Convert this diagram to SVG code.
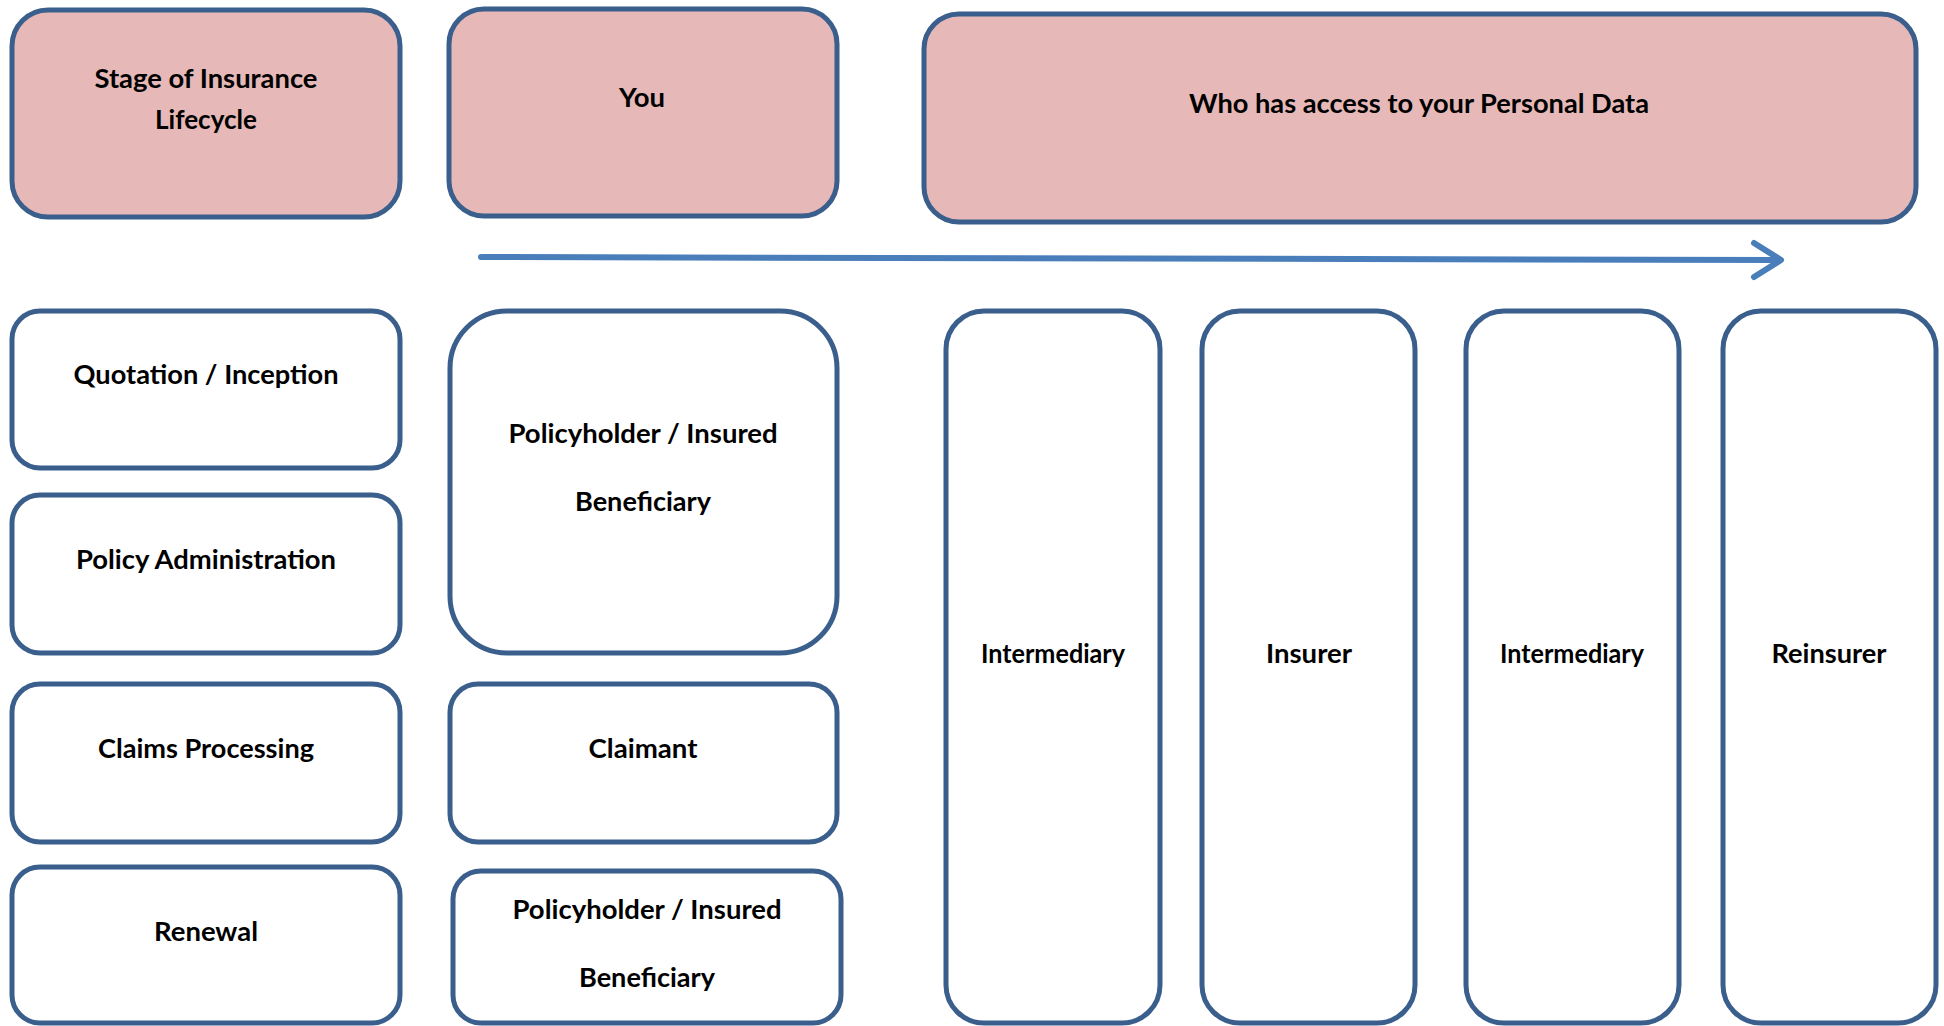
<svg xmlns="http://www.w3.org/2000/svg" width="1944" height="1026" viewBox="0 0 1944 1026">
<style>
.box{fill:#ffffff;stroke:#3B5F8C;stroke-width:5}
.hdr{fill:#E6B8B7;stroke:#3B5F8C;stroke-width:5}
.t{font-family:Lato,"Open Sans","Liberation Sans",sans-serif;font-weight:bold;font-size:26px;fill:#000;text-anchor:middle}
.conn{stroke:#4A7EBB;stroke-width:6;fill:none;stroke-linecap:round;stroke-linejoin:round}
</style>
<rect width="1944" height="1026" fill="#ffffff"/>
<g id="connectors">
<path class="conn" d="M481 257 L1779 260"/>
<path class="conn" d="M1754 243 L1781 260 L1754 277"/>
</g>
<g id="stage-header">
<rect class="hdr" x="12" y="10" width="388" height="207" rx="36" ry="36"/>
<text class="t" x="206" y="88" textLength="223" lengthAdjust="spacingAndGlyphs">Stage of Insurance</text>
<text class="t" x="206" y="129" textLength="102" lengthAdjust="spacingAndGlyphs">Lifecycle</text>
</g>
<g id="you-header">
<rect class="hdr" x="449" y="9" width="388" height="207" rx="35" ry="35"/>
<text class="t" x="642" y="107" textLength="46" lengthAdjust="spacingAndGlyphs">You</text>
</g>
<g id="who-header">
<rect class="hdr" x="924" y="14" width="992" height="208" rx="35" ry="35"/>
<text class="t" x="1419" y="113" textLength="460" lengthAdjust="spacingAndGlyphs">Who has access to your Personal Data</text>
</g>
<g id="quotation">
<rect class="box" x="12" y="311" width="388" height="157" rx="28" ry="28"/>
<text class="t" x="206" y="384" textLength="265" lengthAdjust="spacingAndGlyphs">Quotation / Inception</text>
</g>
<g id="policy-admin">
<rect class="box" x="12" y="495" width="388" height="158" rx="28" ry="28"/>
<text class="t" x="206" y="569" textLength="260" lengthAdjust="spacingAndGlyphs">Policy Administration</text>
</g>
<g id="claims-processing">
<rect class="box" x="12" y="684" width="388" height="158" rx="28" ry="28"/>
<text class="t" x="206" y="758" textLength="216" lengthAdjust="spacingAndGlyphs">Claims Processing</text>
</g>
<g id="renewal">
<rect class="box" x="12" y="867" width="388" height="156" rx="28" ry="28"/>
<text class="t" x="206" y="941" textLength="104" lengthAdjust="spacingAndGlyphs">Renewal</text>
</g>
<g id="policyholder-1">
<rect class="box" x="450" y="311" width="387" height="342" rx="57" ry="57"/>
<text class="t" x="643" y="443" textLength="269" lengthAdjust="spacingAndGlyphs">Policyholder / Insured</text>
<text class="t" x="643" y="511" textLength="136" lengthAdjust="spacingAndGlyphs">Beneficiary</text>
</g>
<g id="claimant">
<rect class="box" x="450" y="684" width="387" height="158" rx="28" ry="28"/>
<text class="t" x="643" y="758" textLength="109" lengthAdjust="spacingAndGlyphs">Claimant</text>
</g>
<g id="policyholder-2">
<rect class="box" x="453" y="871" width="388" height="152" rx="28" ry="28"/>
<text class="t" x="647" y="919" textLength="269" lengthAdjust="spacingAndGlyphs">Policyholder / Insured</text>
<text class="t" x="647" y="987" textLength="136" lengthAdjust="spacingAndGlyphs">Beneficiary</text>
</g>
<g id="intermediary-1">
<rect class="box" x="946" y="311" width="214" height="712" rx="38" ry="38"/>
<text class="t" x="1053" y="663" textLength="144" lengthAdjust="spacingAndGlyphs">Intermediary</text>
</g>
<g id="insurer">
<rect class="box" x="1202" y="311" width="213" height="712" rx="38" ry="38"/>
<text class="t" x="1309" y="663" textLength="86" lengthAdjust="spacingAndGlyphs">Insurer</text>
</g>
<g id="intermediary-2">
<rect class="box" x="1466" y="311" width="213" height="712" rx="38" ry="38"/>
<text class="t" x="1572" y="663" textLength="144" lengthAdjust="spacingAndGlyphs">Intermediary</text>
</g>
<g id="reinsurer">
<rect class="box" x="1723" y="311" width="213" height="712" rx="38" ry="38"/>
<text class="t" x="1829" y="663" textLength="115" lengthAdjust="spacingAndGlyphs">Reinsurer</text>
</g>
</svg>
